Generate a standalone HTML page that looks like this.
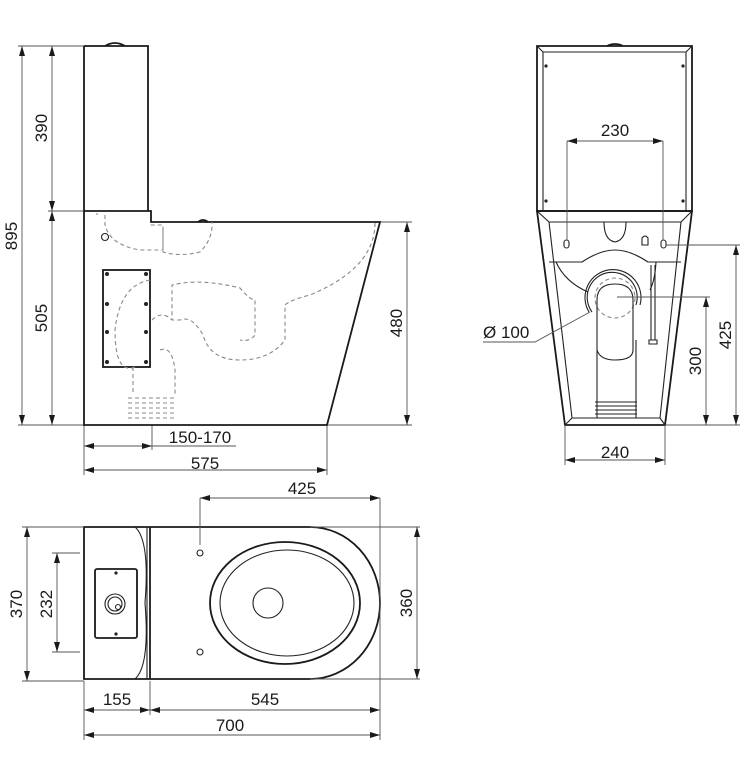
<!DOCTYPE html>
<html><head><meta charset="utf-8"><style>
html,body{margin:0;padding:0;background:#fff;}
svg{display:block;}
text{font-family:"Liberation Sans",sans-serif;font-size:17px;fill:#1a1a1a;}
.o{fill:none;stroke:#1a1a1a;stroke-width:1.8;}
.t{fill:none;stroke:#222;stroke-width:1.1;}
.d{fill:none;stroke:#555;stroke-width:0.9;}
.h{fill:none;stroke:#888;stroke-width:1.1;stroke-dasharray:4,3;}
</style></head><body>
<svg width="744" height="784" viewBox="0 0 744 784" xmlns="http://www.w3.org/2000/svg">
<defs>
<marker id="a" viewBox="0 0 10 10" refX="10" refY="5" markerWidth="10" markerHeight="10" orient="auto-start-reverse" markerUnits="userSpaceOnUse"><path d="M0,2 L10,5 L0,8 z" fill="#1a1a1a"/></marker>
</defs>
<g class="d">
<line x1="18" y1="46" x2="84" y2="46"/><line x1="48" y1="211" x2="84" y2="211"/><line x1="18" y1="425" x2="84" y2="425"/>
<line x1="380" y1="222" x2="412" y2="222"/><line x1="327" y1="425" x2="412" y2="425"/>
<line x1="84" y1="425" x2="84" y2="475"/><line x1="152" y1="425" x2="152" y2="450"/><line x1="327" y1="425" x2="327" y2="475"/>
<line x1="152" y1="446" x2="236" y2="446"/>
</g>
<g class="d" marker-start="url(#a)" marker-end="url(#a)">
<line x1="22" y1="46" x2="22" y2="425"/>
<line x1="52" y1="46" x2="52" y2="211"/>
<line x1="52" y1="211" x2="52" y2="425"/>
<line x1="407" y1="222" x2="407" y2="425"/>
<line x1="84" y1="446" x2="152" y2="446"/>
<line x1="84" y1="470" x2="327" y2="470"/>
</g>
<text x="17" y="236" transform="rotate(-90 17 236)" text-anchor="middle">895</text>
<text x="47" y="128" transform="rotate(-90 47 128)" text-anchor="middle">390</text>
<text x="47" y="318" transform="rotate(-90 47 318)" text-anchor="middle">505</text>
<text x="402" y="323" transform="rotate(-90 402 323)" text-anchor="middle">480</text>
<text x="200" y="443" text-anchor="middle">150-170</text>
<text x="205" y="469" text-anchor="middle">575</text>
<path class="o" d="M84,46 H148 V211 M84,46 V425 H327 L380,222 H151 V211 H84"/>
<path d="M105,46 Q115,40 125,46" class="o"/>
<path d="M198,222 Q203,218 208,222" class="o"/>
<circle cx="105" cy="237" r="3.5" class="t"/>
<rect x="103" y="270" width="47" height="97" class="o"/>
<g fill="#222"><circle cx="107" cy="274" r="2"/><circle cx="146" cy="274" r="2"/><circle cx="107" cy="304" r="2"/><circle cx="146" cy="304" r="2"/><circle cx="107" cy="332" r="2"/><circle cx="146" cy="332" r="2"/><circle cx="107" cy="362" r="2"/><circle cx="146" cy="362" r="2"/></g>
<g class="h">
<path d="M97,213 L97,215 M105,215 V225 Q110,245 140,250 H163 V225 H150 M163,230 V252 Q180,257 200,252 Q212,240 212,225 V222"/>
<path d="M375,223 Q375,268 310,295 Q290,300 285,305 V340 Q270,360 240,360 Q210,360 203,335 Q192,315 180,320 H172 V285 Q200,278 240,288 Q250,300 255,300 V335 Q250,342 240,340"/>
<path d="M150,280 Q120,285 115,330 Q115,375 135,367 M133,367 V395 M160,350 Q172,345 175,370 V395 M152,320 Q162,310 172,320"/>
<path d="M128,398 H175 M128,403 H175 M128,408 H175 M128,413 H175 M128,418 H175"/>
</g>
<path class="o" d="M537,46 H692 V211 H537 Z"/>
<path class="t" d="M543,52 H686 V211 M543,52 V211 M537,46 L543,52 M692,46 L686,52"/>
<path d="M607,46 Q615,42 623,46" class="o"/>
<g fill="#222"><circle cx="546" cy="66" r="1.6"/><circle cx="683" cy="66" r="1.6"/><circle cx="546" cy="201" r="1.6"/><circle cx="683" cy="201" r="1.6"/></g>
<path class="o" d="M537,211 H692 L665,425 H565 Z"/>
<path class="t" d="M549,222 H681 L660,418 H572 Z M537,211 L549,222 M692,211 L681,222 M565,425 L572,418 M665,425 L660,418"/>
<path class="t" d="M549,262 H582 Q600,250 615,250 Q630,250 648,262 H681"/>
<path class="t" d="M604,222 Q604,240 615,242 Q626,240 626,222"/>
<rect x="564" y="240" width="5" height="8" rx="2.5" class="t"/>
<rect x="661" y="240" width="5" height="8" rx="2.5" class="t"/>
<path class="t" d="M642,245 V238 Q645,234 648,238 V245 Z"/>
<path class="t" d="M556,262 Q565,282 588,292 M656,262 Q655,280 650,290"/>
<path class="t" d="M589,312 A28,28 0 1 1 640,305 M592,312 A25,25 0 1 1 636,305"/>
<circle cx="615" cy="298" r="20" class="h"/>
<path class="t" d="M597,418 V300 Q597,284 615,284 Q633,284 633,300 V350 Q633,360 615,360 Q600,360 597,350 M636,340 V418 M595,402 H637 M595,406 H637 M595,410 H637 M595,414 H637"/>
<path class="t" d="M651,265 V340 M655,265 V340 M649,340 H657 V344 H649 Z"/>
<g class="d">
<line x1="567" y1="141" x2="567" y2="240"/><line x1="663" y1="141" x2="663" y2="240"/>
<line x1="666" y1="245" x2="740" y2="245"/><line x1="617" y1="297" x2="710" y2="297"/>
<line x1="665" y1="425" x2="740" y2="425"/>
<line x1="565" y1="425" x2="565" y2="465"/><line x1="665" y1="425" x2="665" y2="465"/>
<polyline points="483,342 535,342 590,312"/>
</g>
<g class="d" marker-start="url(#a)" marker-end="url(#a)">
<line x1="567" y1="141" x2="663" y2="141"/>
<line x1="736" y1="245" x2="736" y2="425"/>
<line x1="706" y1="297" x2="706" y2="425"/>
<line x1="565" y1="460" x2="665" y2="460"/>
</g>
<text x="615" y="136" text-anchor="middle">230</text>
<text x="731" y="335" transform="rotate(-90 731 335)" text-anchor="middle">425</text>
<text x="701" y="361" transform="rotate(-90 701 361)" text-anchor="middle">300</text>
<text x="615" y="458" text-anchor="middle">240</text>
<text x="483" y="338">Ø 100</text>
<path class="o" d="M84,527 H310 A70,76 0 0 1 310,679 H84 Z"/>
<path class="o" d="M150,527 V679"/>
<path class="t" d="M135,527 Q150,540 145,603 Q150,666 135,679 M147,527 V679"/>
<ellipse cx="285" cy="603" rx="75" ry="61" class="o"/>
<ellipse cx="287" cy="603" rx="67" ry="53" class="t"/>
<circle cx="268" cy="603" r="15" class="t"/>
<circle cx="200" cy="553" r="3" class="t"/><circle cx="200" cy="652" r="3" class="t"/>
<rect x="95" y="569" width="42" height="69" rx="2" class="o"/>
<circle cx="116" cy="573" r="1.6" fill="#222"/><circle cx="116" cy="634" r="1.6" fill="#222"/>
<circle cx="115" cy="604" r="10" class="t"/><circle cx="115" cy="604" r="7" class="t"/><circle cx="118" cy="607" r="2.5" class="t"/>
<g class="d">
<line x1="200" y1="498" x2="200" y2="545"/><line x1="380" y1="498" x2="380" y2="740"/>
<line x1="22" y1="527" x2="84" y2="527"/><line x1="22" y1="681" x2="84" y2="681"/>
<line x1="52" y1="553" x2="80" y2="553"/><line x1="52" y1="652" x2="80" y2="652"/>
<line x1="310" y1="527" x2="420" y2="527"/><line x1="310" y1="679" x2="420" y2="679"/>
<line x1="84" y1="681" x2="84" y2="740"/><line x1="150" y1="681" x2="150" y2="715"/>
</g>
<g class="d" marker-start="url(#a)" marker-end="url(#a)">
<line x1="200" y1="498" x2="380" y2="498"/>
<line x1="27" y1="527" x2="27" y2="681"/>
<line x1="57" y1="553" x2="57" y2="652"/>
<line x1="417" y1="527" x2="417" y2="679"/>
<line x1="84" y1="710" x2="150" y2="710"/>
<line x1="150" y1="710" x2="380" y2="710"/>
<line x1="84" y1="735" x2="380" y2="735"/>
</g>
<text x="302" y="494" text-anchor="middle">425</text>
<text x="22" y="604" transform="rotate(-90 22 604)" text-anchor="middle">370</text>
<text x="52" y="604" transform="rotate(-90 52 604)" text-anchor="middle">232</text>
<text x="412" y="603" transform="rotate(-90 412 603)" text-anchor="middle">360</text>
<text x="117" y="705" text-anchor="middle">155</text>
<text x="265" y="705" text-anchor="middle">545</text>
<text x="230" y="731" text-anchor="middle">700</text>
</svg>
</body></html>
